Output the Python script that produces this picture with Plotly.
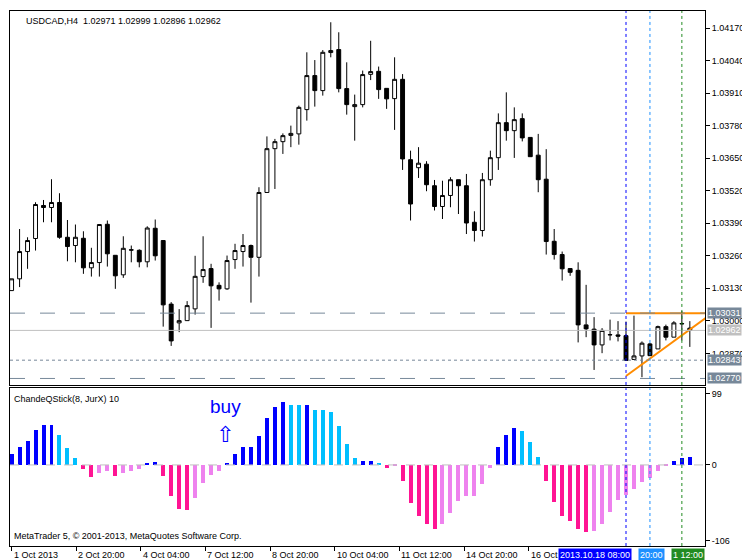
import plotly.graph_objects as go
from plotly.subplots import make_subplots

# USDCAD H4 candles
opens = [1.03121, 1.03168, 1.03277, 1.03329, 1.03461, 1.03453, 1.03473, 1.03334, 1.03301, 1.03330,
         1.03212, 1.03233, 1.03386, 1.03262, 1.03184, 1.03284, 1.03282, 1.03236, 1.03370, 1.03321,
         1.03067, 1.02992, 1.03001, 1.03048, 1.03177, 1.03209, 1.03142, 1.03128, 1.03245, 1.03277,
         1.03301, 1.03254, 1.03513, 1.03688, 1.03716, 1.03741, 1.03747, 1.03844, 1.03980, 1.03920,
         1.04072, 1.04084, 1.03928, 1.03856, 1.03864, 1.03985, 1.03997, 1.03929, 1.03888, 1.03965,
         1.03644, 1.03612, 1.03626, 1.03540, 1.03457, 1.03501, 1.03564, 1.03540, 1.03394, 1.03361,
         1.03564, 1.03652, 1.03792, 1.03760, 1.03808, 1.03733, 1.03662, 1.03566, 1.03318, 1.03265,
         1.03209, 1.03202, 1.02984, 1.02967, 1.02904, 1.02944, 1.02944, 1.02941, 1.02846, 1.02860,
         1.02908, 1.02888, 1.02977, 1.02935, 1.02988, 1.02971]
highs = [1.03168, 1.03367, 1.03334, 1.03474, 1.03483, 1.03566, 1.03510, 1.03403, 1.03385, 1.03358,
         1.03292, 1.03385, 1.03401, 1.03262, 1.03338, 1.03301, 1.03286, 1.03378, 1.03405, 1.03321,
         1.03075, 1.03047, 1.03079, 1.03260, 1.03338, 1.03228, 1.03154, 1.03261, 1.03308, 1.03347,
         1.03305, 1.03534, 1.03737, 1.03727, 1.03749, 1.03780, 1.03860, 1.04073, 1.04042, 1.04082,
         1.04193, 1.04153, 1.04033, 1.03904, 1.04000, 1.04119, 1.04016, 1.03929, 1.04053, 1.03986,
         1.03680, 1.03694, 1.03638, 1.03563, 1.03560, 1.03574, 1.03564, 1.03587, 1.03438, 1.03591,
         1.03680, 1.03829, 1.03913, 1.03853, 1.03829, 1.03733, 1.03747, 1.03686, 1.03367, 1.03277,
         1.03210, 1.03234, 1.03144, 1.03015, 1.02971, 1.03005, 1.02999, 1.02997, 1.03021, 1.02918,
         1.02912, 1.02981, 1.02985, 1.02999, 1.03039, 1.02999]
lows = [1.03121, 1.03135, 1.03208, 1.03281, 1.03394, 1.03394, 1.03328, 1.03238, 1.03234, 1.03188,
        1.03177, 1.03177, 1.03217, 1.03128, 1.03172, 1.03234, 1.03214, 1.03214, 1.03241, 1.02977,
        1.02900, 1.02955, 1.03001, 1.03025, 1.03152, 1.02972, 1.03081, 1.03124, 1.03208, 1.03217,
        1.03073, 1.03177, 1.03513, 1.03527, 1.03667, 1.03694, 1.03704, 1.03800, 1.03856, 1.03900,
        1.04053, 1.03913, 1.03824, 1.03720, 1.03853, 1.03962, 1.03887, 1.03847, 1.03763, 1.03603,
        1.03401, 1.03571, 1.03518, 1.03441, 1.03407, 1.03454, 1.03427, 1.03347, 1.03317, 1.03337,
        1.03540, 1.03603, 1.03720, 1.03651, 1.03717, 1.03656, 1.03514, 1.03265, 1.03245, 1.03161,
        1.03180, 1.02914, 1.02935, 1.02804, 1.02871, 1.02922, 1.02918, 1.02842, 1.02844, 1.02775,
        1.02861, 1.02888, 1.02922, 1.02935, 1.02922, 1.02896]
closes = [1.03168, 1.03277, 1.03321, 1.03465, 1.03453, 1.03473, 1.03334, 1.03297, 1.03334, 1.03212,
          1.03233, 1.03385, 1.03268, 1.03180, 1.03290, 1.03283, 1.03236, 1.03371, 1.03260, 1.03064,
          1.02920, 1.03001, 1.03061, 1.03178, 1.03205, 1.03140, 1.03128, 1.03241, 1.03281, 1.03301,
          1.03254, 1.03513, 1.03688, 1.03716, 1.03740, 1.03749, 1.03853, 1.03980, 1.03920, 1.04073,
          1.04080, 1.03928, 1.03864, 1.03864, 1.03984, 1.03996, 1.03924, 1.03887, 1.03965, 1.03647,
          1.03467, 1.03630, 1.03544, 1.03457, 1.03501, 1.03564, 1.03540, 1.03391, 1.03361, 1.03564,
          1.03652, 1.03792, 1.03760, 1.03804, 1.03731, 1.03656, 1.03564, 1.03317, 1.03265, 1.03208,
          1.03194, 1.02984, 1.02968, 1.02904, 1.02962, 1.02945, 1.02939, 1.02842, 1.02860, 1.02911,
          1.02861, 1.02977, 1.02935, 1.02992, 1.02989, 1.02962]

# ChandeQStick(8, JurX) 10 histogram
qstick = [15, 25, 33, 48, 55, 55, 41, 23, 10, -6, -17, -11, -9, -16, -12, -8, -6, 3, 4, -16,
          -44, -61, -63, -47, -26, -14, -8, 3, 15, 25, 25, 40, 65, 81, 88, 84, 83, 84, 77, 77,
          73, 54, 29, 10, 5, 5, 3, -4, -2, -23, -53, -72, -83, -89, -83, -67, -50, -44, -44, -27,
          -4, 25, 41, 51, 47, 32, 11, -23, -52, -72, -78, -89, -94, -93, -82, -66, -49, -42, -34, -24,
          -19, -8, -1, 5, 10, 11]
# colour state: 0 rising up, 1 falling up, 2 falling down, 3 rising down
qstate = [0, 0, 0, 0, 0, 0, 1, 1, 1, 2, 2, 3, 3, 2, 3, 3, 3, 0, 0, 2,
          2, 2, 2, 3, 3, 3, 3, 0, 0, 0, 0, 0, 0, 0, 0, 1, 1, 0, 1, 1,
          1, 1, 1, 1, 0, 0, 1, 2, 3, 2, 2, 2, 2, 2, 3, 3, 3, 3, 3, 3,
          3, 0, 0, 0, 1, 1, 1, 2, 2, 2, 2, 2, 2, 3, 3, 3, 3, 3, 3, 3,
          3, 3, 3, 0, 0, 0]
state_colors = ['#0000FF', '#00BFFF', '#FF1493', '#EE82EE']

tick_pos = [0, 8.1, 16.2, 24.3, 32.4, 40.5, 48.6, 56.7, 64.8]
tick_labels = ['1 Oct 2013', '2 Oct 20:00', '4 Oct 04:00', '7 Oct 12:00', '8 Oct 20:00',
               '10 Oct 04:00', '11 Oct 12:00', '14 Oct 20:00', '16 Oct 04:00']
price_ticks = [1.04170, 1.04040, 1.03910, 1.03780, 1.03650, 1.03520, 1.03390,
               1.03260, 1.03130, 1.03000, 1.02870]
levels = [1.03031, 1.02962, 1.02843, 1.02770]
vlines = [77, 80, 84]
tri_top = 1.03031
tri_start, tri_end = 1.02780, 1.03012

idx = list(range(len(opens)))
font = 'Liberation Sans'
fs = 9

fig = make_subplots(rows=2, cols=1, shared_xaxes=True, vertical_spacing=0.006,
                    row_heights=[0.7, 0.3])

fig.add_trace(go.Candlestick(
    x=idx, open=opens, high=highs, low=lows, close=closes,
    increasing=dict(fillcolor='white', line=dict(color='black', width=1)),
    decreasing=dict(fillcolor='black', line=dict(color='black', width=1)),
    whiskerwidth=0, hoverinfo='skip', showlegend=False), row=1, col=1)

fig.add_trace(go.Bar(x=idx, y=qstick, width=0.5,
                     marker=dict(color=[state_colors[s] for s in qstate], line=dict(width=0)),
                     showlegend=False, hoverinfo='skip'), row=2, col=1)

# horizontal levels
styles = [('#778899', 'longdash', 1), ('#C0C0C0', 'solid', 1),
          ('#778899', 'dot', 1), ('#778899', 'longdash', 1)]
for lv, (c, d, w) in zip(levels, styles):
    fig.add_hline(y=lv, line=dict(color=c, dash=d, width=w), row=1, col=1)
fig.add_hline(y=0, line=dict(color='#C0C0C0', dash='dash', width=1), row=2, col=1)

# vertical lines
vstyles = [('#0000FF', 'dot'), ('#1E90FF', 'dot'), ('#228B22', 'dot')]
for v, (c, d) in zip(vlines, vstyles):
    for r in (1, 2):
        fig.add_vline(x=v, line=dict(color=c, dash=d, width=1), row=r, col=1)

# orange triangle
fig.add_trace(go.Scatter(x=[vlines[0], 87], y=[tri_top, tri_top], mode='lines',
                         line=dict(color='#FF8C00', width=2), showlegend=False,
                         hoverinfo='skip'), row=1, col=1)
fig.add_trace(go.Scatter(x=[vlines[0], 87], y=[tri_start, tri_end], mode='lines',
                         line=dict(color='#FF8C00', width=2), showlegend=False,
                         hoverinfo='skip'), row=1, col=1)

axis_common = dict(showline=True, linecolor='black', linewidth=1, mirror=True,
                   showgrid=False, zeroline=False)
fig.update_xaxes(range=[-0.2, 86.9], rangeslider_visible=False, **axis_common)
fig.update_xaxes(showticklabels=False, ticks='', row=1, col=1)
fig.update_xaxes(tickvals=tick_pos, ticktext=['' for _ in tick_pos], ticks='outside',
                 ticklen=4, tickcolor='black', row=2, col=1)
fig.update_yaxes(side='right', range=[1.02744, 1.04238], tickvals=price_ticks,
                 ticktext=[f'{p:.5f}' for p in price_ticks], ticks='outside', ticklen=4,
                 tickcolor='black', tickfont=dict(size=fs, color='black', family=font),
                 row=1, col=1, **axis_common)
fig.update_yaxes(side='right', range=[-113, 107], tickvals=[99, 0, -106],
                 ticktext=['99', '0', '-106'], ticks='outside', ticklen=4, tickcolor='black',
                 tickfont=dict(size=fs, color='black', family=font),
                 row=2, col=1, **axis_common)

ann = []
for p, t in zip(tick_pos, tick_labels):
    ann.append(dict(x=p, y=-0.004, xref='x2', yref='paper', text=t, showarrow=False,
                    xanchor='left', yanchor='top', font=dict(size=fs, family=font, color='black')))
label_bg = ['#778899', '#C0C0C0', '#778899', '#778899']
for lv, bg in zip(levels, label_bg):
    ann.append(dict(x=1.0, y=lv, xref='paper', yref='y', text=f'{lv:.5f}', showarrow=False,
                    xanchor='left', yanchor='middle', bgcolor=bg, borderpad=0, xshift=2,
                    font=dict(size=fs, family=font, color='white')))
for text, x, bg, anchor, shift in [('2013.10.18 08:00', 77, '#0000FF', 'right', 6),
                                   ('20:00', 80, '#1E90FF', 'center', 2),
                                   ('1 12:00', 84, '#228B22', 'center', 6)]:
    ann.append(dict(x=x, y=-0.004, xref='x2', yref='paper', text=text, showarrow=False,
                    xanchor=anchor, yanchor='top', bgcolor=bg, borderpad=1, xshift=shift,
                    font=dict(size=fs, family=font, color='white')))
ann += [
    dict(x=0.02, y=0.995, xref='paper', yref='paper', text='USDCAD,H4  1.02971 1.02999 1.02896 1.02962',
         showarrow=False, xanchor='left', yanchor='top', font=dict(size=fs, family=font, color='black')),
    dict(x=0.003, y=0.287, xref='paper', yref='paper', text='ChandeQStick(8, JurX) 10',
         showarrow=False, xanchor='left', yanchor='top', font=dict(size=fs, family=font, color='black')),
    dict(x=0.003, y=0.005, xref='paper', yref='paper',
         text='MetaTrader 5, © 2001-2013, MetaQuotes Software Corp.',
         showarrow=False, xanchor='left', yanchor='bottom', font=dict(size=fs, family=font, color='black')),
    dict(x=26.8, y=82, xref='x2', yref='y2', text='buy', showarrow=False,
         font=dict(size=19, family=font, color='#0000FF')),
    dict(x=26.8, y=42, xref='x2', yref='y2', text='⇧', showarrow=False,
         font=dict(size=22, family='DejaVu Sans', color='#0000FF')),
]

fig.update_layout(width=750, height=560, margin=dict(l=2, r=53, t=3, b=22),
                  paper_bgcolor='white', plot_bgcolor='white', bargap=0,
                  annotations=ann, font=dict(family=font, size=fs))
fig.update_yaxes(domain=[0.301, 1.0], row=1, col=1)
fig.update_yaxes(domain=[0.0, 0.295], row=2, col=1)

fig.write_html('out.html')
